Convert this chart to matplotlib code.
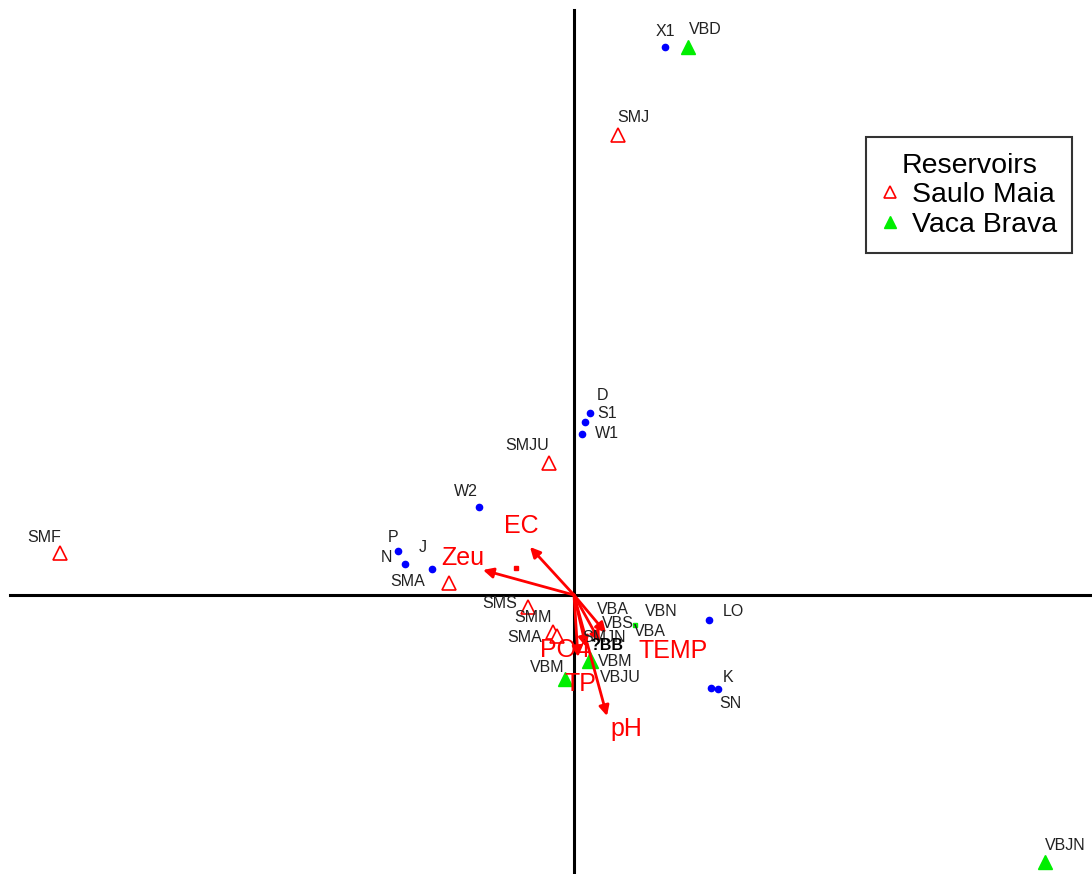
import matplotlib
matplotlib.use("Agg")
import matplotlib.pyplot as plt
from matplotlib.lines import Line2D

plt.rcParams['font.family'] = ['Liberation Sans', 'DejaVu Sans']

# Sites (Saulo Maia reservoir, open red triangles)
sm_names = ["SMJ", "SMJU", "SMF", "SMA", "SMS", "SMM", "SMA"]
sm_x = [0.44, -0.25, -5.14, -1.25, -0.46, -0.21, -0.17]
sm_y = [4.60, 1.32, 0.42, 0.12, -0.12, -0.37, -0.41]

# Sites (Vaca Brava reservoir, filled green triangles)
vb_names = ["VBD", "VBJN", "VBM", "VBM", "VBA"]
vb_x = [1.14, 4.71, -0.09, 0.16, 0.61]
vb_y = [5.48, -2.67, -0.84, -0.65, -0.30]
vb_size = [10, 10, 10, 11, 3]

# Species scores (blue dots)
sp_names = ["X1", "D", "S1", "W1", "W2", "P", "N", "J", "LO", "K", "SN"]
sp_x = [0.91, 0.16, 0.11, 0.08, -0.95, -1.76, -1.69, -1.42, 1.35, 1.37, 1.44]
sp_y = [5.48, 1.82, 1.73, 1.61, 0.88, 0.44, 0.31, 0.26, -0.25, -0.93, -0.94]

# Environmental variables (arrows)
env_names = ["EC", "Zeu", "TEMP", "pH", "TP", "PO4", ""]
env_x = [-0.44, -0.91, 0.32, 0.33, 0.04, 0.12, 0.26]
env_y = [0.48, 0.25, -0.38, -1.21, -0.62, -0.52, -0.47]

fig = plt.figure(figsize=(10.92, 8.74), dpi=100)
ax = fig.add_axes([0, 0, 1, 1])
ax.set_xlim(-5.74, 5.18)
ax.set_ylim(-2.79, 5.95)
ax.axis('off')

# axes cross
ax.plot([-5.64, 5.18], [0, 0], color='black', lw=2.2, zorder=1)
ax.plot([0, 0], [-2.79, 5.85], color='black', lw=2.2, zorder=1)

lab_kw = dict(fontsize=11.5, color='#222222', zorder=6)

# species
ax.plot(sp_x, sp_y, 'o', color='blue', ms=4.5, zorder=3, ls='none')
sp_off = {"X1": (0.0, 0.15), "D": (0.13, 0.18), "W2": (-0.13, 0.15), "P": (-0.05, 0.14),
          "N": (-0.19, 0.07), "J": (-0.09, 0.21), "LO": (0.24, 0.08), "K": (0.17, 0.10),
          "SN": (0.12, -0.15)}
sp_left = {"S1": (0.12, 0.08), "W1": (0.13, 0.01)}
for n, x, y in zip(sp_names, sp_x, sp_y):
    if n in sp_left:
        dx, dy = sp_left[n]
        ax.text(x + dx, y + dy, n, ha='left', va='center', **lab_kw)
    else:
        dx, dy = sp_off[n]
        ax.text(x + dx, y + dy, n, ha='center', va='center', **lab_kw)

# Saulo Maia
ax.plot(sm_x, sm_y, '^', mfc='white', mec='red', mew=1.2, ms=10, ls='none', zorder=4)
sm_off = [(0.15, 0.17), (-0.22, 0.18), (-0.16, 0.16), (-0.41, 0.02), (-0.28, 0.04),
          (-0.20, 0.15), (-0.32, -0.01)]
for n, x, y, (dx, dy) in zip(sm_names, sm_x, sm_y, sm_off):
    ax.text(x + dx, y + dy, n, ha='center', va='center', **lab_kw)

# Vaca Brava
for n, x, y, s in zip(vb_names, vb_x, vb_y, vb_size):
    ax.plot([x], [y], '^' if s > 5 else 's', color='#00ee00', ms=s, ls='none', zorder=4)
vb_off = [(0.17, 0.17), (0.20, 0.17), (-0.18, 0.12), (0.25, -0.02), (0.15, -0.07)]
for n, x, y, (dx, dy) in zip(vb_names, vb_x, vb_y, vb_off):
    ax.text(x + dx, y + dy, n, ha='center', va='center', **lab_kw)

# extra crowded labels in centre
extra = [("VBA", 0.39, -0.15), ("VBN", 0.87, -0.16), ("VBS", 0.44, -0.29),
         ("SMJN", 0.30, -0.43), ("VBJU", 0.46, -0.83)]
for n, x, y in extra:
    ax.text(x, y, n, ha='center', va='center', **lab_kw)
ax.text(0.33, -0.51, "?BB", ha='center', va='center', fontsize=11.5,
        fontweight='bold', color='black', zorder=6)

# arrows
for n, x, y in zip(env_names, env_x, env_y):
    ax.annotate("", xy=(x, y), xytext=(0, 0),
                arrowprops=dict(arrowstyle='-|>', color='red', lw=2,
                                mutation_scale=15, shrinkA=0, shrinkB=0), zorder=5)
env_lab = {"EC": (-0.53, 0.69), "Zeu": (-1.11, 0.37), "TEMP": (0.99, -0.56),
           "pH": (0.52, -1.34), "TP": (0.06, -0.89), "PO4": (-0.09, -0.55)}
for n, (x, y) in env_lab.items():
    ax.text(x, y, n, ha='center', va='center', fontsize=18, color='red', zorder=6)
ax.plot([-0.58], [0.27], 's', color='red', ms=3, zorder=5)

# legend
handles = [Line2D([], [], marker='^', ls='none', mfc='white', mec='red', mew=1.2, ms=9),
           Line2D([], [], marker='^', ls='none', color='#00ee00', ms=9)]
leg = ax.legend(handles, ["Saulo Maia", "Vaca Brava"], title="Reservoirs",
                loc='upper left', bbox_to_anchor=(0.793, 0.843),
                fontsize=20.5, title_fontsize=20.5, frameon=True, fancybox=False,
                edgecolor='black', handlelength=0.6, handletextpad=0.45,
                borderpad=0.55, labelspacing=0.12, borderaxespad=0)
leg.get_frame().set_linewidth(1.5)

fig.savefig("out.png", dpi=100)
